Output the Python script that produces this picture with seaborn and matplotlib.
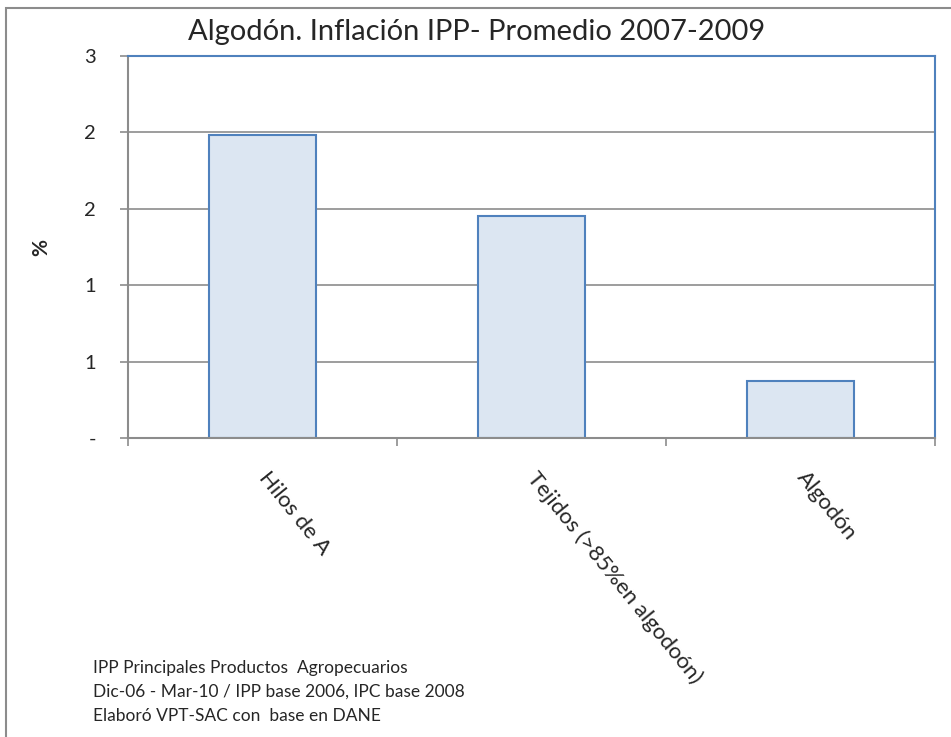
import numpy as np
import pandas as pd
import seaborn as sns
import matplotlib.pyplot as plt
from matplotlib.ticker import FuncFormatter, MultipleLocator, FixedLocator
from matplotlib.patches import Rectangle

# data
categories = ['Hilos de A', 'Tejidos (>85%en algodoón)', 'Algodón']
values = [1.98, 1.45, 0.37]

df = pd.DataFrame({'producto': categories, 'valor': values})

sns.set_theme(style='white')
plt.rcParams['font.family'] = ['Lato', 'DejaVu Sans']

fig = plt.figure(figsize=(9.51, 7.37), dpi=100)
ax = fig.add_axes([128 / 951, 1 - 438 / 737, 807 / 951, 382 / 737])

sns.barplot(data=df, x='producto', y='valor', ax=ax, width=0.4,
            color='#DCE6F2', edgecolor='#4F81BD', linewidth=1.5, saturation=1)

ax.set_ylim(0, 2.5)
ax.set_xlim(-0.5, 2.5)
ax.yaxis.set_major_locator(MultipleLocator(0.5))


def fmt(v, pos):
    if abs(v) < 1e-9:
        return '-'
    return str(int(np.floor(v + 0.5)))


ax.yaxis.set_major_formatter(FuncFormatter(fmt))
ax.grid(axis='y', color='#8c8c8c', linewidth=1.2)
ax.set_axisbelow(True)

for s in ['left', 'bottom']:
    ax.spines[s].set_color('#8c8c8c')
    ax.spines[s].set_linewidth(1.5)
for s in ['top', 'right']:
    ax.spines[s].set_color('#4F81BD')
    ax.spines[s].set_linewidth(1.5)

ax.tick_params(axis='y', which='major', left=True, length=6, width=1.2,
               color='#8c8c8c', pad=17, labelsize=14.5)
ax.tick_params(axis='x', which='major', bottom=False, labelsize=16, pad=20)
ax.xaxis.set_minor_locator(FixedLocator([-0.5, 0.5, 1.5, 2.5]))
ax.tick_params(axis='x', which='minor', bottom=True, length=6, width=1.2, color='#8c8c8c')

for lab in ax.get_xticklabels():
    lab.set_rotation(-51)
    lab.set_ha('left')
    lab.set_va('center')
    lab.set_rotation_mode('anchor')

ax.set_xlabel('')
ax.set_ylabel('%', fontsize=15, fontweight='bold', labelpad=24)

fig.text(477 / 951, 1 - 32 / 737, 'Algodón. Inflación IPP- Promedio 2007-2009',
         ha='center', va='center', fontsize=21)

notes = ['IPP Principales Productos  Agropecuarios',
         'Dic-06 - Mar-10 / IPP base 2006, IPC base 2008',
         'Elaboró VPT-SAC con  base en DANE']
for i, t in enumerate(notes):
    fig.text(93 / 951, 1 - (668 + 24 * i) / 737, t, ha='left', va='center', fontsize=12.5)

fig.patches.append(Rectangle((6 / 951, -0.1), 1.2, 1 - 8 / 737 + 0.1, transform=fig.transFigure,
                             fill=False, edgecolor='#8c8c8c', linewidth=1.5))

fig.savefig('out.png', dpi=100)
